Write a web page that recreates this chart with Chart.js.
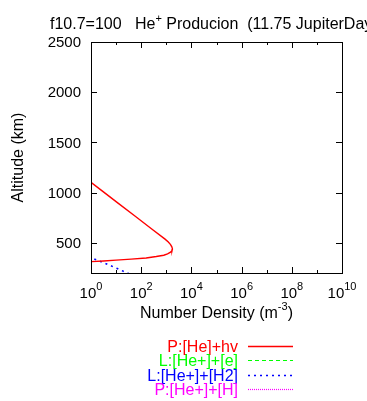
<!DOCTYPE html>
<html>
<head>
<meta charset="utf-8">
<script src="https://cdn.jsdelivr.net/npm/chart.js@4/dist/chart.umd.min.js"></script>
<style>
html,body{margin:0;padding:0;background:#fff;}
#wrap{position:relative;width:367px;height:401px;overflow:hidden;}
canvas{display:block;}
</style>
</head>
<body>
<div id="wrap"><canvas id="c" width="367" height="401"></canvas></div>
<script>
// ---- data ----
const seriesNames = ["P:[He]+hv", "L:[He+]+[e]", "L:[He+]+[H2]", "P:[He+]+[H]"];
const seriesColors = ["#ff0000", "#00ff00", "#0000ff", "#ff00ff"];

// P:[He]+hv  (density m^-3, altitude km)
const redDensity  = [0.5, 1, 2.69, 12.3, 56.2, 263, 891, 1202, 1479, 1660, 1758, 1698, 1479, 1122, 794, 398, 158, 39.8, 10, 3.16, 1, 0.5];
const redAltitude = [1160, 1103, 1020, 893, 767, 638, 537, 508, 483, 461, 440, 424, 408, 391, 377, 364, 350, 338, 328, 320, 313, 308];

// L:[He+]+[e]  (below the plotted density range)
const greenDensity  = [];
const greenAltitude = [];

// L:[He+]+[H2]
const blueDensity  = [0.5, 1, 1.45, 3.63, 10.5, 26.3, 35.5];
const blueAltitude = [390, 356, 336, 297, 247, 203, 188];

// P:[He+]+[H]  (below the plotted density range)
const magentaDensity  = [];
const magentaAltitude = [];

const xMajorExp = [0, 2, 4, 6, 8, 10];
const xMinorExp = [1, 3, 5, 7, 9];
const yTicks = [500, 1000, 1500, 2000, 2500];
const yMin = 200, yMax = 2500;
const xMin = 1, xMax = 1e10;

const titleParts = [
  {t: "f10.7=100   He"}, {t: "+", sup: true}, {t: " Producion  (11.75 JupiterDays)"}
];
const xTitleParts = [{t: "Number Density (m"}, {t: "-3", sup: true}, {t: ")"}];
const yTitle = "Altitude (km)";

// ---- build datasets ----
function pts(xs, ys){ return xs.map((v,i)=>({x:v, y:ys[i]})); }
const dashes = [[], [4,3], [2,4], [1,1]];
const widths = [1.4, 1.2, 1.6, 1.2];
const allData = [pts(redDensity, redAltitude), pts(greenDensity, greenAltitude),
                 pts(blueDensity, blueAltitude), pts(magentaDensity, magentaAltitude)];
const datasets = seriesNames.map((n,i)=>({
  label: n, data: allData[i], borderColor: seriesColors[i], backgroundColor: seriesColors[i],
  borderWidth: widths[i], borderDash: dashes[i], showLine: true, pointRadius: 0, fill: false, tension: 0
}));

const FONT = '"Liberation Sans", Arial, sans-serif';
function richWidth(ctx, parts, size, supSize){
  let w = 0;
  parts.forEach(p=>{ ctx.font = (p.sup?supSize:size) + "px " + FONT; w += ctx.measureText(p.t).width; });
  return w;
}
function drawRich(ctx, parts, x, y, size, supSize, align, raise){
  const w = richWidth(ctx, parts, size, supSize);
  let cx = align === "center" ? x - w/2 : (align === "right" ? x - w : x);
  ctx.textAlign = "left"; ctx.textBaseline = "alphabetic";
  parts.forEach(p=>{
    ctx.font = (p.sup?supSize:size) + "px " + FONT;
    ctx.fillText(p.t, cx, p.sup ? y - raise : y);
    cx += ctx.measureText(p.t).width;
  });
}

const decor = {
  id: "decor",
  afterDatasetsDraw(chart){
    const ctx = chart.ctx, a = chart.chartArea;
    const xs = chart.scales.x, ys = chart.scales.y;
    ctx.save();
    ctx.strokeStyle = "#000"; ctx.lineWidth = 1;
    // frame
    ctx.strokeRect(Math.round(a.left)+0.5, Math.round(a.top)+0.5, Math.round(a.right-a.left), Math.round(a.bottom-a.top));
    ctx.beginPath();
    xMajorExp.forEach(e=>{
      const px = Math.round(xs.getPixelForValue(Math.pow(10,e)))+0.5;
      ctx.moveTo(px, a.bottom); ctx.lineTo(px, a.bottom-6);
      ctx.moveTo(px, a.top); ctx.lineTo(px, a.top+6);
    });
    xMinorExp.forEach(e=>{
      const px = Math.round(xs.getPixelForValue(Math.pow(10,e)))+0.5;
      ctx.moveTo(px, a.bottom); ctx.lineTo(px, a.bottom-3);
      ctx.moveTo(px, a.top); ctx.lineTo(px, a.top+3);
    });
    yTicks.forEach(v=>{
      const py = Math.round(ys.getPixelForValue(v))+0.5;
      ctx.moveTo(a.left, py); ctx.lineTo(a.left+6, py);
      ctx.moveTo(a.right, py); ctx.lineTo(a.right-6, py);
    });
    ctx.stroke();

    ctx.fillStyle = "#000";
    // y tick labels
    ctx.font = "15px " + FONT; ctx.textAlign = "right"; ctx.textBaseline = "middle";
    yTicks.forEach(v=>{ ctx.fillText(String(v), a.left-10, ys.getPixelForValue(v)+1); });
    // x tick labels 10^n
    xMajorExp.forEach(e=>{
      const px = xs.getPixelForValue(Math.pow(10,e));
      drawRich(ctx, [{t:"10"},{t:String(e), sup:true}], px, a.bottom+25, 15, 11, "center", 8);
    });
    // axis titles
    drawRich(ctx, xTitleParts, (a.left+a.right)/2, a.bottom+45, 16, 11, "center", 8);
    ctx.save();
    ctx.translate(23, (a.top+a.bottom)/2);
    ctx.rotate(-Math.PI/2);
    ctx.font = "16px " + FONT; ctx.textAlign = "center"; ctx.textBaseline = "alphabetic";
    ctx.fillText(yTitle, 0, 0);
    ctx.restore();
    // title
    drawRich(ctx, titleParts, 50, 29, 16, 11, "left", 7);
    // legend
    const legBase = [351.5, 366, 380.5, 395];
    seriesNames.forEach((n,i)=>{
      ctx.fillStyle = seriesColors[i];
      ctx.font = "16px " + FONT; ctx.textAlign = "right"; ctx.textBaseline = "alphabetic";
      ctx.fillText(n, 238, legBase[i]);
      ctx.strokeStyle = seriesColors[i]; ctx.lineWidth = widths[i];
      ctx.setLineDash(dashes[i]);
      ctx.beginPath();
      const ly = Math.round(legBase[i]-6)+0.5;
      ctx.moveTo(248, ly); ctx.lineTo(293, ly); ctx.stroke();
      ctx.setLineDash([]);
    });
    ctx.restore();
  }
};

new Chart(document.getElementById("c"), {
  type: "scatter",
  data: { datasets },
  options: {
    responsive: false, animation: false, devicePixelRatio: 1,
    layout: { padding: { left: 91, right: 25, top: 42, bottom: 128 } },
    plugins: { legend: { display: false }, tooltip: { enabled: false }, title: { display: false } },
    scales: {
      x: { type: "logarithmic", min: xMin, max: xMax, display: false },
      y: { type: "linear", min: yMin, max: yMax, display: false }
    }
  },
  plugins: [decor]
});
</script>
</body>
</html>
